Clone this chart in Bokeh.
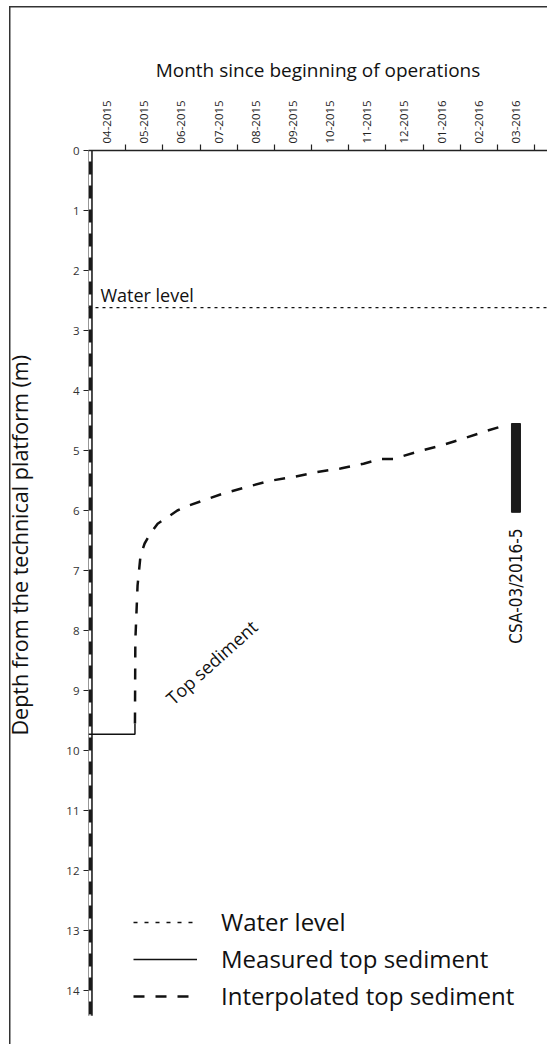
import math
import numpy as np
from bokeh.plotting import figure
from bokeh.models import Range1d, FixedTicker, Label, Legend, LegendItem, Title
from bokeh.embed import file_html
from bokeh.resources import INLINE

# ---------------- data ----------------
month_labels = ["04-2015", "05-2015", "06-2015", "07-2015", "08-2015", "09-2015",
                "10-2015", "11-2015", "12-2015", "01-2016", "02-2016", "03-2016",
                "04-2016"]
depth_ticks = list(range(0, 15))
max_depth = 14.42                  # depth bar length (m)
water_level = 2.62                 # m below the technical platform

# measured top sediment (months since 1 April 2015, depth m)
measured_month = [0.0, 1.25, 1.25]
measured_depth = [9.73, 9.73, 9.55]

# interpolated top sediment
interp_month = [1.25, 1.26, 1.32, 1.40, 1.51, 1.67, 1.86, 2.13, 2.39, 2.69, 3.01,
                3.61, 4.25, 4.84, 5.52, 6.13, 6.78, 7.40, 7.86, 8.21, 8.85, 9.47,
                10.09, 10.73, 11.05]
interp_depth = [9.55, 8.17, 7.25, 6.75, 6.55, 6.38, 6.22, 6.11, 6.00, 5.92, 5.85,
                5.72, 5.61, 5.51, 5.44, 5.36, 5.30, 5.22, 5.14, 5.14, 5.02, 4.92,
                4.80, 4.67, 4.61]

# core
core_month = [11.5]
core_top = [4.55]
core_bottom = [6.03]
core_name = "CSA-03/2016-5"

# ---------------- layout ----------------
W, H = 547, 1044
LEFT, TOP = 88, 150
PX_PER_MONTH = 37.17
PX_PER_M = 60.0
x_end = (W - LEFT) / PX_PER_MONTH
y_end = (H - TOP) / PX_PER_M
FONT = "Open Sans"

p = figure(width=W, height=H, x_range=Range1d(0, x_end), y_range=Range1d(y_end, 0),
           output_backend="svg", toolbar_location=None, x_axis_location="above",
           min_border_left=LEFT, min_border_top=TOP, min_border_right=0,
           min_border_bottom=0)
p.styles = {"background": "linear-gradient(#333, #333) 9px 6px / 1.5px 100% no-repeat, "
                          "linear-gradient(#333, #333) 9px 6px / 100% 1.5px no-repeat, #ffffff"}
p.outline_line_color = None
p.grid.visible = False
p.background_fill_color = None
p.border_fill_color = None

# top axis
xa = p.xaxis[0]
mids = [m + 0.5 for m in range(len(month_labels))]
xa.ticker = FixedTicker(ticks=mids, minor_ticks=list(range(1, len(month_labels) + 1)))
xa.major_label_overrides = {m + 0.5: lab for m, lab in enumerate(month_labels)}
xa.major_label_orientation = "vertical"
xa.major_tick_out = 0
xa.major_tick_in = 0
xa.minor_tick_out = 6
xa.minor_tick_in = 0
xa.minor_tick_line_color = "#222"
xa.minor_tick_line_width = 1.2
xa.axis_line_width = 1.6
xa.axis_line_color = "#222"
xa.major_label_standoff = 1
xa.major_label_text_font = FONT
xa.major_label_text_font_size = "11.5px"
xa.major_label_text_color = "#222"
xa.axis_label = "Month since beginning of operations"
xa.axis_label_text_font = FONT
xa.axis_label_text_font_size = "19px"
xa.axis_label_text_font_style = "normal"
xa.axis_label_text_color = "#111"
xa.axis_label_standoff = 14

# left axis
ya = p.yaxis[0]
ya.ticker = FixedTicker(ticks=depth_ticks)
ya.axis_line_color = None
ya.major_tick_out = 5
ya.major_tick_in = 0
ya.major_tick_line_color = "#222"
ya.minor_tick_line_color = None
ya.major_label_standoff = 4
ya.major_label_text_font = FONT
ya.major_label_text_font_size = "11.5px"
ya.major_label_text_color = "#333"

# y title as a side title, placed like the original (starts ~309 px above bottom);
# the empty second line pushes the text outward, away from the tick labels
ytitle = Title(text="Depth from the technical platform (m)\n", align="left",
               offset=309, standoff=2, text_font=FONT, text_font_size="21.5px",
               text_font_style="normal", text_color="#111")
p.add_layout(ytitle, "left")

# water level
r_water = p.line(x=[0, x_end], y=[water_level, water_level], line_color="#111",
                 line_width=1.3, line_dash="3 4")

# depth bar (axis)
bar_x = 1.5 / PX_PER_MONTH
p.segment(x0=[bar_x], y0=[0], x1=[bar_x], y1=[max_depth], line_color="#1a1a1a",
          line_width=5.5)
p.segment(x0=[bar_x], y0=[0], x1=[bar_x], y1=[max_depth], line_color="white",
          line_width=2.4, line_dash="11 13")

# measured & interpolated sediment
r_meas = p.line(x=measured_month, y=measured_depth, line_color="#111", line_width=1.5)
r_interp = p.line(x=interp_month, y=interp_depth, line_color="#111", line_width=2.5,
                  line_dash="11 11")

# core
p.vbar(x=core_month, width=9 / PX_PER_MONTH, top=core_top, bottom=core_bottom,
       fill_color="#1a1a1a", line_color="#1a1a1a")

# labels
p.add_layout(Label(x=0.32, y=2.40, text="Water level", text_font=FONT,
                   text_font_size="18px", text_color="#111",
                   text_baseline="middle"))
p.add_layout(Label(x=3.31, y=8.53, text="Top sediment", text_font=FONT,
                   text_font_size="18px", text_color="#111", angle=math.radians(42),
                   text_align="center", text_baseline="middle"))
p.add_layout(Label(x=core_month[0], y=7.26, text=core_name,
                   text_font="'DejaVu Sans Condensed', Roboto", text_font_size="17px",
                   text_color="#111", angle=math.pi / 2, text_align="center",
                   text_baseline="middle"))

# legend (water sample uses a sparser dotted pattern as in the original key)
r_water_key = p.line(x=[np.nan], y=[np.nan], line_color="#111", line_width=1.3,
                     line_dash="4 7")
legend = Legend(items=[LegendItem(label="Water level", renderers=[r_water_key]),
                       LegendItem(label="Measured top sediment", renderers=[r_meas]),
                       LegendItem(label="Interpolated top sediment", renderers=[r_interp])],
                location=(45, 32), glyph_width=64, glyph_height=30, label_height=30,
                label_standoff=24, spacing=4, padding=0, margin=0,
                border_line_color=None, background_fill_alpha=0,
                label_text_font=FONT, label_text_font_size="24px",
                label_text_color="#111")
p.add_layout(legend)

open("out.html", "w").write(file_html(p, INLINE))
